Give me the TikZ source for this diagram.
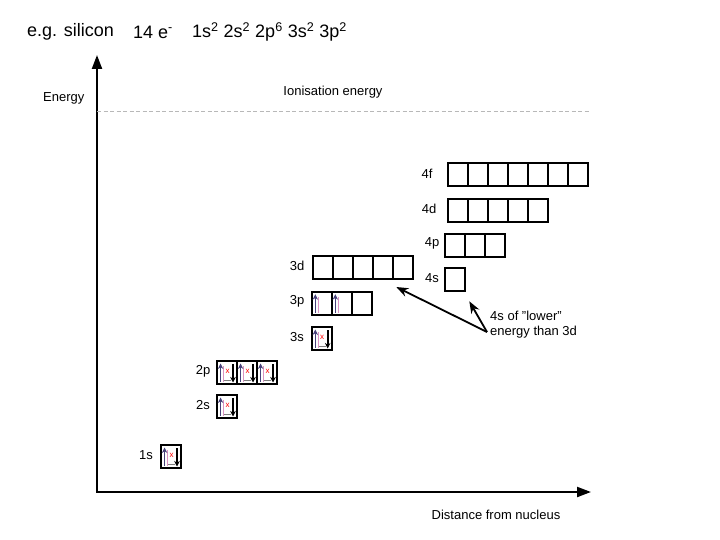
\documentclass[tikz,border=0pt]{standalone}
\usepackage{fontspec}
\setmainfont{Liberation Sans}
\usetikzlibrary{arrows.meta,calc}
\definecolor{upspin}{rgb}{0.28,0.26,0.48}
\definecolor{spinshade}{rgb}{0.86,0.58,0.76}
\definecolor{ionline}{rgb}{0.72,0.72,0.72}
\tikzset{
  orb/.style={draw=black, line width=1.8pt, minimum width=20pt, minimum height=23pt,
    inner sep=0pt, outer sep=0pt, anchor=north west},
  lbl/.style={font=\fontsize{13}{15}\selectfont, inner sep=0pt},
  eup/.pic={
    \draw[spinshade, line width=1pt] (6.3,5) -- (6.3,21);
    \draw[upspin, line width=1.6pt, -{Stealth[length=5.5pt,width=5.5pt]}] (3.6,21) -- (3.6,2.5);
  },
  epair/.pic={
    \pic {eup};
    \draw[gray, line width=0.6pt] (7,19) -- (14,19);
    \node[text=red, font=\fontsize{8}{8}\selectfont, inner sep=0pt] at (10.5,10) {x};
    \draw[black, line width=1.6pt, -{Stealth[length=5.5pt,width=5.5pt]}] (16,3) -- (16,21.5);
  }
}
\begin{document}
\begin{tikzpicture}[x=1pt,y=-1pt]
\useasboundingbox (0,0) rectangle (720,540);
% heading:
\node[anchor=west, inner sep=0pt, font=\fontsize{18}{20}\selectfont] (elem) at (27,32) {e.g. silicon};
\node[anchor=west, inner sep=0pt, font=\fontsize{18}{20}\selectfont] (count) at (133,32) {14 e\textsuperscript{-}};
\node[anchor=west, inner sep=0pt, font=\fontsize{18}{20}\selectfont] (config) at (192,32)
  {1s\textsuperscript{2} 2s\textsuperscript{2} 2p\textsuperscript{6} 3s\textsuperscript{2} 3p\textsuperscript{2}};
% axes:
\coordinate (origin) at (97,492);
\coordinate (etop) at (97,55);
\coordinate (dend) at (591,492);
\draw[line width=2.2pt, {Triangle[length=14pt,width=10pt]}-{Triangle[length=14pt,width=10pt]}]
  (etop) -- (origin) -- (dend);
\node[lbl, anchor=west] (energy) at (43,98) {Energy};
\node[lbl] (dist) at (496,515) {Distance from nucleus};
% ionisation level:
\coordinate (ionw) at (97,111);
\coordinate (ione) at (590,111);
\draw[ionline, line width=0.8pt, dash pattern=on 4pt off 2.5pt] (ionw) -- (ione);
\node[lbl] (ion) at (333,92) {Ionisation energy};
% orbital boxes:
\foreach \shell/\x/\y/\n/\lx in {1s/161/445/1/146, 2s/217/395/1/203, 2p/217/361/3/203,
    3s/311.7/327/1/297, 3p/311.7/291.7/3/297, 3d/313.3/256/5/297,
    4s/445.3/268.3/1/432, 4p/445.3/233.7/3/432, 4d/447.7/199.3/5/429, 4f/447.7/163.3/7/427}{
  \foreach \i in {1,...,\n}
    \node[orb] (o\shell\i) at (\x+20*\i-20,\y) {};
  \node[lbl] (l\shell) at (\lx,\y+10) {\shell};
}
% electrons:
\foreach \b in {o1s1,o2s1,o2p1,o2p2,o2p3,o3s1}
  \pic at (\b.north west) {epair};
\foreach \b in {o3p1,o3p2}
  \pic at (\b.north west) {eup};
% 4s below 3d:
\node[lbl, anchor=west, align=left] (note) at (490,325) {4s of "lower"\\energy than 3d};
\coordinate (tail) at ($(note.west)+(-3,7)$);
\coordinate (tip3d) at ($(o3d5.south east)+(-17,8)$);
\coordinate (tip4s) at ($(o4s1.south east)+(4,10)$);
\draw[line width=1.8pt, -{Stealth[length=12pt,width=9pt]}] (tail) -- (tip3d);
\draw[line width=1.8pt, -{Stealth[length=12pt,width=9pt]}] (tail) -- (tip4s);
\end{tikzpicture}
\end{document}
